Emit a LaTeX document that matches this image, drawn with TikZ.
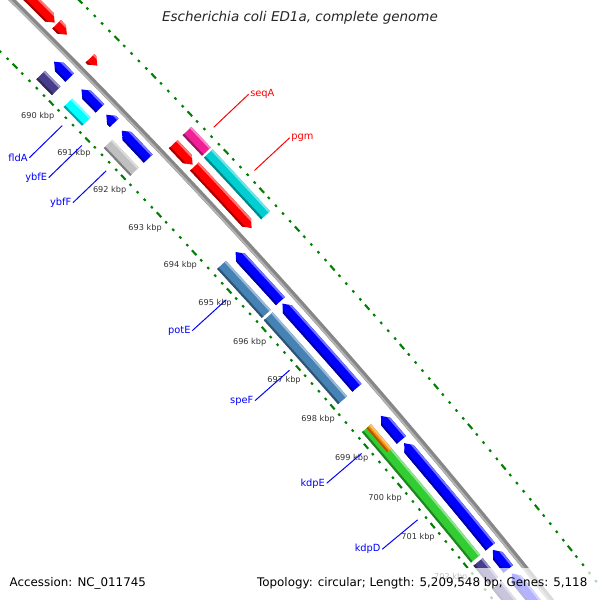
\documentclass[tikz,border=0pt]{standalone}
\usepackage{fontspec}
\setmainfont{DejaVu Sans}[ItalicFont={DejaVu Sans Oblique}]
\usetikzlibrary{calc}

\definecolor{cdsred}{RGB}{255,0,0}
\definecolor{cdsblue}{RGB}{0,0,255}
\definecolor{cogpink}{RGB}{240,32,150}
\definecolor{cogteal}{RGB}{0,206,209}
\definecolor{cogaqua}{RGB}{0,255,255}
\definecolor{cogslate}{RGB}{72,61,139}
\definecolor{cogsilver}{RGB}{192,192,192}
\definecolor{cogsteel}{RGB}{70,130,180}
\definecolor{cogorange}{RGB}{255,140,0}
\definecolor{coglime}{RGB}{50,205,50}
\definecolor{tickgreen}{RGB}{0,128,0}
\definecolor{bbgray}{RGB}{135,135,135}
\definecolor{bblight}{RGB}{180,180,180}

\newcommand{\kz}{-44.56}
\newcommand{\kk}{0.452}
\newcommand{\hd}{0.066}

\newcommand{\gene}[6][6]{%
	\pgfmathsetmacro\gA{\kz+\kk*(#2-690)}%
	\pgfmathsetmacro\gB{\kz+\kk*(#3-690)}%
	\pgfmathsetmacro\gI{#4-#1}%
	\pgfmathsetmacro\gO{#4+#1}%
	\ifcase#6
		\def\gpath{({\gA}:\gO) arc[start angle=\gA,end angle=\gB,radius=\gO] -- ({\gB}:\gI) arc[start angle=\gB,end angle=\gA,radius=\gI] -- cycle}%
	\or
		\pgfmathsetmacro\gH{max(\gA,\gB-\hd)}%
		\def\gpath{({\gA}:\gO) arc[start angle=\gA,end angle=\gH,radius=\gO] -- ({\gB}:#4) -- ({\gH}:\gI) arc[start angle=\gH,end angle=\gA,radius=\gI] -- cycle}%
	\or
		\pgfmathsetmacro\gH{min(\gB,\gA+\hd)}%
		\def\gpath{({\gH}:\gO) arc[start angle=\gH,end angle=\gB,radius=\gO] -- ({\gB}:\gI) arc[start angle=\gB,end angle=\gH,radius=\gI] -- ({\gA}:#4) -- cycle}%
	\fi
	\fill[#5] \gpath;
	\begin{scope}
		\clip \gpath;
		\draw[line width=2.9pt,#5!55!white] ({\gA}:\gO) arc[start angle=\gA,end angle=\gB,radius=\gO];
		\draw[line width=2.9pt,#5!65!black] ({\gA}:\gI) arc[start angle=\gA,end angle=\gB,radius=\gI];
	\end{scope}
}

\begin{document}
\begin{tikzpicture}[x=0.025cm,y=-0.025cm,every node/.style={inner sep=1pt},
	tick/.style={tickgreen,line width=1.5pt},
	klabel/.style={font=\fontsize{5.8}{6}\selectfont,text=black!80},
	glabel/.style={font=\fontsize{7}{8}\selectfont},
	lead/.style={line width=0.7pt}]

	\useasboundingbox (0,0) rectangle (600,600);
	\clip (0,0) rectangle (600,600);
	\fill[white] (0,0) rectangle (600,600);

	\begin{scope}[shift={(-4624,4707)}]
	% backbone
	\pgfmathsetmacro\bA{\kz+\kk*(-4)}
	\pgfmathsetmacro\bB{\kz+\kk*15}
	\draw[bbgray,line width=3.8pt] ({\bA}:6607) arc[start angle=\bA,end angle=\bB,radius=6607];
	\draw[bblight,line width=1.3pt] ({\bA}:6605.5) arc[start angle=\bA,end angle=\bB,radius=6605.5];

	% ticks every 200 bp
	\foreach \t in {0,...,95}{
		\pgfmathsetmacro\ta{\kz+\kk*(\t/5-4)}
		\pgfmathtruncatemacro\tm{mod(\t,5)}
		\ifnum\tm=0 \def\dl{0.029}\else\def\dl{0.011}\fi
		\draw[tick] ({\ta-\dl}:6654) -- ({\ta+\dl}:6654);
		\draw[tick] ({\ta-\dl}:6562) -- ({\ta+\dl}:6562);
	}

	\gene{687.0}{688.95}{6621}{cdsred}{1}
	\gene{689.0}{689.28}{6621}{cdsred}{1}
	\gene{689.91}{690.11}{6621}{cdsred}{1}
	\gene{692.2}{692.74}{6621}{cdsred}{1}
	\gene{692.79}{694.4}{6621}{cdsred}{1}
	\gene{692.2}{692.74}{6640}{cogpink}{0}
	\gene{692.79}{694.4}{6640}{cogteal}{0}

	\gene{689.47}{689.9}{6593}{cdsblue}{2}
	\gene{690.22}{690.73}{6593}{cdsblue}{2}
	\gene{690.9}{691.12}{6593}{cdsblue}{2}
	\gene{691.33}{692.07}{6593}{cdsblue}{2}
	\gene{694.53}{695.81}{6593}{cdsblue}{2}
	\gene{695.87}{698.03}{6593}{cdsblue}{2}
	\gene{698.74}{699.35}{6593}{cdsblue}{2}
	\gene{699.43}{702.02}{6593}{cdsblue}{2}
	\gene{702.1}{702.57}{6593}{cdsblue}{2}
	\gene{702.68}{704.5}{6593}{cdsblue}{2}

	\gene{689.47}{689.9}{6574}{cogslate}{0}
	\gene{690.22}{690.73}{6574}{cogaqua}{0}
	\gene{691.33}{692.07}{6574}{cogsilver}{0}
	\gene{694.53}{695.81}{6574}{cogsteel}{0}
	\gene{695.87}{698.03}{6574}{cogsteel}{0}
	\gene{698.74}{702.02}{6574}{coglime}{0}
	\gene[3]{698.74}{699.35}{6577}{cogorange}{0}
	\gene{702.1}{702.57}{6574}{cogslate}{0}
	\gene{702.68}{704.5}{6574}{cogslate}{0}

	\foreach \k in {690,...,702}
		\node[klabel] (k\k) at ({\kz+\kk*(\k-690)}:6543) {\k\ kbp};

	\foreach \n/\p in {fldA/690.46,ybfE/691.0,ybfF/691.68,potE/695.09,speF/696.92,kdpE/699.05,kdpD/700.73}{
		\coordinate (\n-a) at ({\kz+\kk*(\p-690)}:6554);
		\coordinate (\n-b) at ({\kz+\kk*(\p-690)}:6508);
		\node[glabel,text=cdsblue,anchor=east] (\n) at (\n-b) {\n};
		\draw[lead,cdsblue] (\n-a) -- (\n.east);
	}
	\foreach \n/\p in {seqA/692.5,pgm/693.63}{
		\coordinate (\n-a) at ({\kz+\kk*(\p-690)}:6662);
		\coordinate (\n-b) at ({\kz+\kk*(\p-690)}:6710);
		\node[glabel,text=cdsred,anchor=west] (\n) at (\n-b) {\n};
		\draw[lead,cdsred] (\n-a) -- (\n.west);
	}
	\end{scope}

	\fill[white,opacity=0.7] (0,568) rectangle (600,600);
	\node[anchor=base west,font=\fontsize{8.45}{10}\selectfont] (acc) at (8,586) {Accession: NC\_011745};
	\node[anchor=base east,font=\fontsize{8.45}{10}\selectfont] (topo) at (589,586) {Topology: circular; Length: 5,209,548 bp; Genes: 5,118};
	\node[font=\fontsize{9.6}{11}\selectfont\itshape,text=black!85] (title) at (300,18) {Escherichia coli ED1a, complete genome};
\end{tikzpicture}
\end{document}
